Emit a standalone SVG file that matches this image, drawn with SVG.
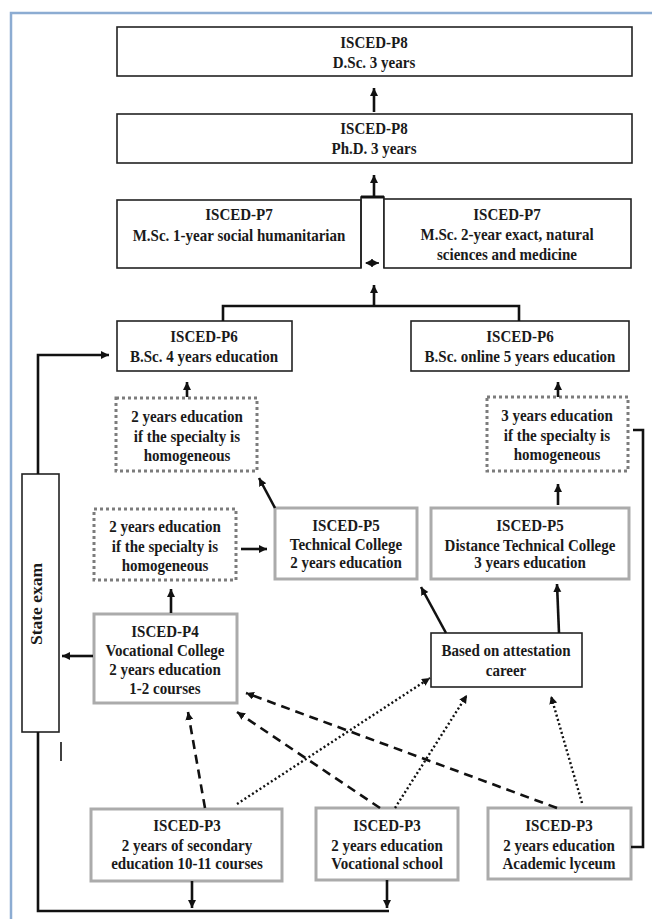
<svg xmlns="http://www.w3.org/2000/svg" width="652" height="919" viewBox="0 0 652 919">
<style>
text{font-family:"Liberation Serif","Times New Roman",serif;font-weight:bold;font-size:16.5px;fill:#1a1a1a;text-anchor:middle}
text.c{transform:scaleX(0.91);transform-box:fill-box;transform-origin:center}
.bk{fill:#fff;stroke:#222;stroke-width:1.6}
.gr{fill:#fff;stroke:#ababab;stroke-width:3}
.dt{fill:#fff;stroke:#7c7c7c;stroke-width:3;stroke-dasharray:3 3}
.ln{fill:none;stroke:#111;stroke-width:2.6}
.ar{fill:none;stroke:#111;stroke-width:2.6;marker-end:url(#ah)}
.da{fill:none;stroke:#111;stroke-width:2.6;stroke-dasharray:9 6;marker-end:url(#ah)}
.do{fill:none;stroke:#111;stroke-width:2.4;stroke-dasharray:2 2.5;marker-end:url(#ah)}
</style>
<defs>
<marker id="ah" markerUnits="userSpaceOnUse" markerWidth="9" markerHeight="9" refX="8" refY="4" orient="auto">
<path d="M0,0 L8,4 L0,8 z" fill="#111"/>
</marker>
<marker id="as" markerUnits="userSpaceOnUse" markerWidth="9" markerHeight="9" refX="1" refY="4" orient="auto">
<path d="M8,0 L0,4 L8,8 z" fill="#111"/>
</marker>
</defs>
<rect width="652" height="919" fill="#fff"/>
<path d="M11,919 V13 H652" fill="none" stroke="#8cacd2" stroke-width="2.5"/>

<g id="dsc"><rect class="bk" x="117" y="27" width="515" height="49"/><text class="c" x="374" y="48">ISCED-P8</text><text class="c" x="374" y="68">D.Sc. 3 years</text></g>
<g id="phd"><rect class="bk" x="117" y="114" width="515" height="49"/><text class="c" x="374" y="134">ISCED-P8</text><text class="c" x="374" y="154">Ph.D. 3 years</text></g>
<g id="msc1"><rect class="bk" x="117" y="200" width="244" height="68"/><text class="c" x="239" y="220">ISCED-P7</text><text class="c" x="239" y="241">M.Sc. 1-year social humanitarian</text></g>
<g id="mid"><path d="M361,268 V197 H384 V268" fill="none" stroke="#222" stroke-width="1.6"/><path d="M361,197 H384" stroke="#111" stroke-width="3"/></g>
<g id="msc2"><rect class="bk" x="384" y="199" width="247" height="69"/><text class="c" x="507" y="220">ISCED-P7</text><text class="c" x="507" y="240">M.Sc. 2-year exact, natural</text><text class="c" x="507" y="260">sciences and medicine</text></g>
<g id="bsc1"><rect class="bk" x="117" y="321" width="175" height="50"/><text class="c" x="204" y="342">ISCED-P6</text><text class="c" x="204" y="362">B.Sc. 4 years education</text></g>
<g id="bsc2"><rect class="bk" x="411" y="321" width="218" height="50"/><text class="c" x="520" y="342">ISCED-P6</text><text class="c" x="520" y="362">B.Sc. online 5 years education</text></g>
<g id="hom1"><rect class="dt" x="116" y="398" width="141" height="73"/><text class="c" x="187" y="422">2 years education</text><text class="c" x="187" y="442">if the specialty is</text><text class="c" x="187" y="461">homogeneous</text></g>
<g id="hom3"><rect class="dt" x="487" y="397" width="141" height="74"/><text class="c" x="557" y="421">3 years education</text><text class="c" x="557" y="441">if the specialty is</text><text class="c" x="557" y="460">homogeneous</text></g>
<g id="hom2"><rect class="dt" x="94" y="509" width="142" height="71"/><text class="c" x="165" y="532">2 years education</text><text class="c" x="165" y="552">if the specialty is</text><text class="c" x="165" y="571">homogeneous</text></g>
<g id="tc"><rect class="gr" x="275" y="508" width="142" height="71" stroke="#9a9a9a"/><text class="c" x="346" y="531">ISCED-P5</text><text class="c" x="346" y="550">Technical College</text><text class="c" x="346" y="568">2 years education</text></g>
<g id="dtc"><rect class="gr" x="431" y="508" width="198" height="71"/><text class="c" x="530" y="531">ISCED-P5</text><text class="c" x="530" y="551">Distance Technical College</text><text class="c" x="530" y="568">3 years education</text></g>
<g id="state"><rect class="bk" x="22" y="474" width="37" height="258"/><text transform="translate(42,604) rotate(-90)" style="font-size:17.5px">State exam</text></g>
<g id="voc"><rect class="gr" x="94" y="614" width="143" height="89"/><text class="c" x="165" y="637">ISCED-P4</text><text class="c" x="165" y="656">Vocational College</text><text class="c" x="165" y="675">2 years education</text><text class="c" x="165" y="694">1-2 courses</text></g>
<g id="based"><rect class="bk" x="431" y="633" width="151" height="54"/><text class="c" x="506" y="656">Based on attestation</text><text class="c" x="506" y="676">career</text></g>
<g id="p3a"><rect class="gr" x="91" y="809" width="191" height="72"/><text class="c" x="187" y="831">ISCED-P3</text><text class="c" x="187" y="851">2 years of secondary</text><text class="c" x="187" y="869">education 10-11 courses</text></g>
<g id="p3b"><rect class="gr" x="316" y="808" width="142" height="72"/><text class="c" x="387" y="831">ISCED-P3</text><text class="c" x="387" y="851">2 years education</text><text class="c" x="387" y="869">Vocational school</text></g>
<g id="p3c"><rect class="gr" x="488" y="808" width="143" height="71"/><text class="c" x="559" y="831">ISCED-P3</text><text class="c" x="559" y="851">2 years education</text><text class="c" x="559" y="869">Academic lyceum</text></g>

<g id="connectors">
<path class="ar" d="M374,112 V88"/>
<path class="ar" d="M374,197 V175"/>
<path d="M366,263 H379" fill="none" stroke="#111" stroke-width="1.6" marker-end="url(#ah)" marker-start="url(#as)"/>
<path class="ar" d="M374,306 V285"/>
<path class="ln" d="M223,321 V306 H519 V321"/>
<path class="ar" d="M38,474 V355 H109"/>
<path class="ar" d="M187,397 V382"/>
<path class="ar" d="M558,397 V382"/>
<path class="ar" d="M275,508 L259,478"/>
<path class="ar" d="M241,549 H267"/>
<path class="ar" d="M558,505 V484"/>
<path class="ar" d="M171,613 V589"/>
<path class="ar" d="M93,656 H62"/>
<path class="ar" d="M446,633 L421,587"/>
<path class="ar" d="M559,633 L557,584"/>
<path class="da" d="M205,808 L188,712"/>
<path class="da" d="M380,808 L237,712"/>
<path class="da" d="M557,808 L246,693"/>
<path class="do" d="M237,804 L430,678"/>
<path class="do" d="M395,808 L467,695"/>
<path class="do" d="M582,803 L551,696"/>
<path class="ar" d="M192,881 V908"/>
<path class="ar" d="M387,880 V908"/>
<path class="ln" d="M38,732 V911 H389"/>
<path class="ln" d="M633,430 H643 V847 H631"/>
<path d="M61,742 V761" stroke="#111" stroke-width="1.6"/>
</g>
</svg>
